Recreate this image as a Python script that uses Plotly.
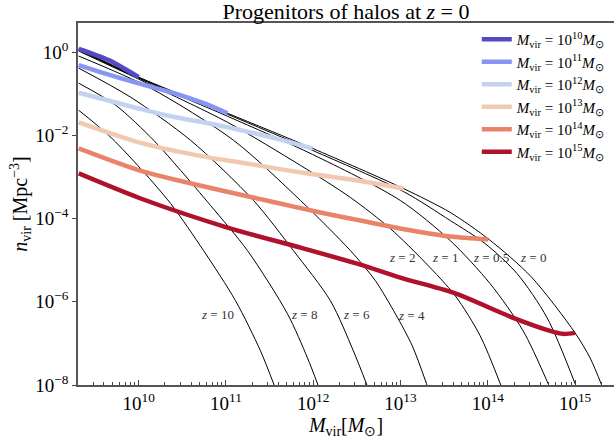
import plotly.graph_objects as go

# ---- black mass-function curves: log10(M_vir/Msun), log10(n_vir/Mpc^-3) ----
z_labels = ["0", "0.5", "1", "2", "4", "6", "8", "10"]
mf_logM = {
    "0":   [9.313, 10.0, 11.018, 11.991, 13.032, 13.570, 14.016, 14.497, 15.0, 15.172, 15.309],
    "0.5": [9.313, 10.0, 11.018, 11.991, 13.032, 13.570, 13.970, 14.336, 14.680, 15.011],
    "1":   [9.313, 10.0, 11.018, 11.991, 12.998, 13.570, 14.027, 14.405, 14.703],
    "2":   [9.313, 10.0, 11.018, 11.854, 12.426, 12.883, 13.284, 13.627, 13.913, 14.153],
    "4":   [9.313, 10.137, 11.087, 11.854, 12.426, 12.712, 12.941, 13.135, 13.307],
    "6":   [9.313, 9.908, 10.595, 11.316, 11.773, 12.197, 12.460, 12.620],
    "8":   [9.313, 9.737, 10.172, 10.481, 10.824, 11.247, 11.705, 11.934, 12.059],
    "10":  [9.313, 9.657, 9.989, 10.366, 10.744, 11.110, 11.396, 11.556],
}
mf_logn = {
    "0":   [0.072, -0.602, -1.470, -2.313, -3.277, -3.855, -4.506, -5.398, -6.747, -7.349, -8.024],
    "0.5": [0.060, -0.614, -1.494, -2.361, -3.349, -4.048, -4.602, -5.325, -6.386, -8.024],
    "1":   [0.048, -0.627, -1.542, -2.458, -3.566, -4.530, -5.566, -6.699, -8.024],
    "2":   [0.024, -0.651, -1.687, -2.723, -3.494, -4.241, -5.060, -5.855, -6.819, -8.024],
    "4":   [-0.096, -0.867, -2.120, -3.566, -4.771, -5.494, -6.289, -7.060, -8.024],
    "6":   [-0.386, -1.084, -2.120, -3.566, -4.771, -5.976, -7.181, -8.024],
    "8":   [-0.747, -1.277, -2.120, -2.843, -3.687, -4.771, -6.289, -7.349, -8.024],
    "10":  [-1.398, -2.0, -2.723, -3.639, -4.771, -5.976, -7.181, -8.024],
}
# label positions for the redshift annotations (log10 M, log10 n)
zlab_logM = {"10": 10.904, "8": 11.899, "6": 12.494, "4": 13.124,
             "2": 13.021, "1": 13.513, "0.5": 14.039, "0": 14.519}
zlab_logn = {"10": -6.313, "8": -6.313, "6": -6.313, "4": -6.337,
             "2": -4.940, "1": -4.940, "0.5": -4.940, "0": -4.940}

# ---- progenitor tracks ----
track_exp = [10, 11, 12, 13, 14, 15]
track_logM = {
    10: [9.313, 9.657, 10.0],
    11: [9.313, 9.600, 9.989, 10.366, 10.744, 11.018],
    12: [9.313, 9.989, 10.366, 10.801, 11.281, 11.568, 11.991],
    13: [9.313, 10.046, 10.801, 11.167, 11.568, 11.934, 12.506, 13.032],
    14: [9.313, 10.046, 10.801, 11.568, 12.082, 12.540, 13.192, 13.570, 14.005],
    15: [9.313, 10.023, 11.018, 11.854, 12.540, 12.998, 13.604, 14.291, 14.714, 14.863, 15.0],
}
track_logn = {
    10: [0.080, -0.193, -0.602],
    11: [-0.313, -0.506, -0.747, -0.964, -1.229, -1.470],
    12: [-0.976, -1.349, -1.542, -1.711, -1.928, -2.072, -2.313],
    13: [-1.687, -2.193, -2.530, -2.651, -2.795, -2.916, -3.084, -3.277],
    14: [-2.313, -2.867, -3.253, -3.614, -3.855, -4.048, -4.313, -4.434, -4.506],
    15: [-2.916, -3.518, -4.217, -4.699, -5.108, -5.422, -5.783, -6.386, -6.699, -6.771, -6.747],
}
track_colors = ["#5549c4", "#8796f2", "#c4d2f2", "#f1c9b1", "#e9836a", "#b0112b"]

x_ticks = [1e10, 1e11, 1e12, 1e13, 1e14, 1e15]
x_ticktext = ["10<sup>10</sup>", "10<sup>11</sup>", "10<sup>12</sup>",
              "10<sup>13</sup>", "10<sup>14</sup>", "10<sup>15</sup>"]
y_ticks = [1, 1e-2, 1e-4, 1e-6, 1e-8]
y_ticktext = ["10<sup>0</sup>", "10<sup>−2</sup>", "10<sup>−4</sup>",
              "10<sup>−6</sup>", "10<sup>−8</sup>"]

FONT = "Liberation Serif"

fig = go.Figure()
for z in z_labels:
    fig.add_trace(go.Scatter(
        x=[10 ** v for v in mf_logM[z]], y=[10 ** v for v in mf_logn[z]],
        mode="lines", line=dict(color="black", width=1, shape="spline", smoothing=0.8),
        showlegend=False, hoverinfo="skip"))

for e, c in zip(track_exp, track_colors):
    fig.add_trace(go.Scatter(
        x=[10 ** v for v in track_logM[e]], y=[10 ** v for v in track_logn[e]],
        mode="lines", line=dict(color=c, width=4.5, shape="spline", smoothing=0.8),
        name=f"<i>M</i><sub>vir</sub> = 10<sup>{e}</sup><i>M</i><sub>⊙</sub>"))

for z in z_labels:
    fig.add_annotation(x=zlab_logM[z], y=zlab_logn[z], xref="x", yref="y",
                       text=f"<i>z</i> = {z}", showarrow=False,
                       font=dict(family=FONT, size=13, color="#333333"))

minor_x = [k * 10 ** d for d in range(9, 16) for k in range(2, 10)]

fig.update_layout(
    width=614, height=444,
    margin=dict(l=78, r=0, t=23, b=59, autoexpand=False),
    paper_bgcolor="white", plot_bgcolor="white",
    font=dict(family=FONT, size=18, color="black"),
    title=dict(text="Progenitors of halos at <i>z</i> = 0", x=0.5, xref="paper",
               y=1 - 11 / 444, yref="container", yanchor="middle", xanchor="center",
               font=dict(family=FONT, size=22, color="black")),
    legend=dict(x=0.744, xanchor="left", y=1.0, yanchor="top",
                bgcolor="rgba(0,0,0,0)", font=dict(family=FONT, size=15),
                itemwidth=30, tracegroupgap=0),
)
fig.update_xaxes(type="log", range=[9.305, 15.446], automargin=False,
                 tickvals=x_ticks, ticktext=x_ticktext,
                 ticks="inside", ticklen=5, tickcolor="#444", tickwidth=1,
                 minor=dict(tickvals=minor_x, ticks="inside", ticklen=3, tickcolor="#444"),
                 showline=True, linecolor="#555", linewidth=1.5, mirror=True,
                 showgrid=False, zeroline=False,
                 title=dict(text="<i>M</i><sub>vir</sub>[<i>M</i><sub>⊙</sub>]", standoff=4,
                            font=dict(size=20)),
                 tickfont=dict(size=19))
fig.update_yaxes(type="log", range=[-8, 0.699], automargin=False,
                 tickvals=y_ticks, ticktext=y_ticktext,
                 ticks="outside", ticklen=4, tickcolor="#444",
                 showline=True, linecolor="#555", linewidth=1.5, mirror=False,
                 showgrid=False, zeroline=False,
                 title=dict(text="<i>n</i><sub>vir</sub> [Mpc<sup>−3</sup>]", standoff=2,
                            font=dict(size=20)),
                 tickfont=dict(size=19))

fig.write_html("out.html", config={"displayModeBar": False},
               post_script="document.body.style.margin='0px';document.body.style.overflow='hidden';")
